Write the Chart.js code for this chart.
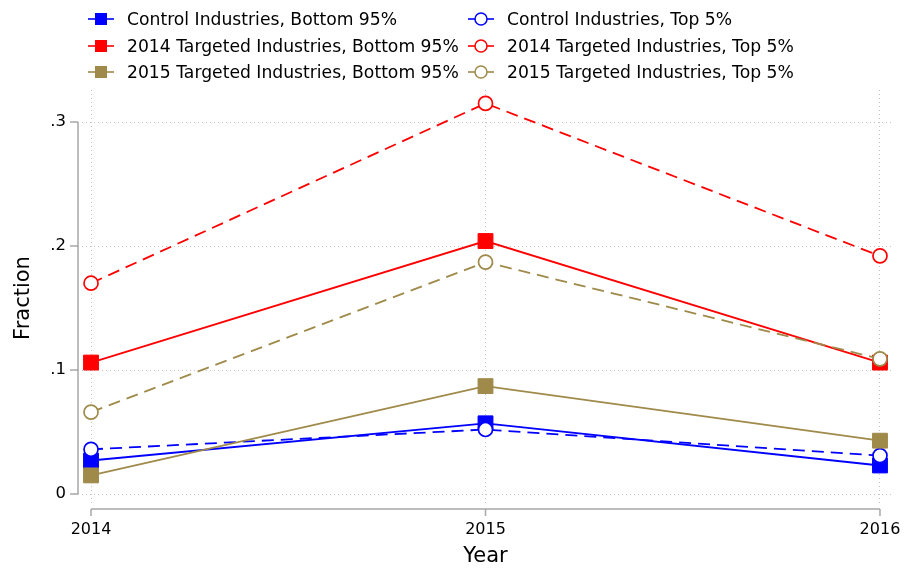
<!DOCTYPE html>
<html><head><meta charset="utf-8">
<script src="https://cdn.jsdelivr.net/npm/chart.js@4/dist/chart.umd.min.js"></script>
<style>
html,body{margin:0;padding:0;background:#fff}
#wrap{position:relative;width:905px;height:571px;overflow:hidden}
canvas{position:absolute;left:0;top:0}
.leg{position:absolute;font-family:'DejaVu Sans',sans-serif;font-size:17.2px;color:#000;display:flex;align-items:center;white-space:nowrap;height:22px}
.leg svg{margin-right:13px;flex:none}
</style></head><body>
<div id="wrap"><canvas id="c" width="905" height="571"></canvas></div>
<script>
// ---- data ----
const years = [2014, 2015, 2016];
const controlBottom = [0.027, 0.057, 0.023];
const controlTop = [0.036, 0.052, 0.031];
const targeted2014Bottom = [0.106, 0.204, 0.106];
const targeted2014Top = [0.170, 0.315, 0.192];
const targeted2015Bottom = [0.015, 0.087, 0.043];
const targeted2015Top = [0.066, 0.187, 0.109];
const seriesNames = [
  'Control Industries, Bottom 95%', 'Control Industries, Top 5%',
  '2014 Targeted Industries, Bottom 95%', '2014 Targeted Industries, Top 5%',
  '2015 Targeted Industries, Bottom 95%', '2015 Targeted Industries, Top 5%'
];
const seriesValues = [controlBottom, controlTop, targeted2014Bottom, targeted2014Top, targeted2015Bottom, targeted2015Top];
const yTickValues = [0, 0.1, 0.2, 0.3];
const yTickLabels = ['0', '.1', '.2', '.3'];
const xTickLabels = ['2014', '2015', '2016'];

// ---- styles ----
const BLUE = '#0000ff', RED = '#ff0000', TAN = '#9f8a4a';
const seriesColors = [BLUE, BLUE, RED, RED, TAN, TAN];
const isTop = [false, true, false, true, false, true];
const FONT = "'DejaVu Sans', sans-serif";

const datasets = seriesValues.map((vals, i) => ({
  label: seriesNames[i],
  data: years.map((yr, j) => ({x: yr, y: vals[j]})),
  borderColor: seriesColors[i],
  borderWidth: 1.8,
  borderDash: isTop[i] ? [12, 7] : [],
  pointStyle: isTop[i] ? 'circle' : 'rect',
  pointRadius: isTop[i] ? 7 : 10.5,
  pointHoverRadius: isTop[i] ? 7 : 10.5,
  pointBorderWidth: isTop[i] ? 1.7 : 1,
  pointBackgroundColor: isTop[i] ? '#ffffff' : seriesColors[i],
  pointBorderColor: seriesColors[i],
  tension: 0,
  fill: false,
  order: seriesValues.length - i
}));

const axisLines = {
  id: 'axisLines',
  afterDraw(chart) {
    const {ctx, chartArea, scales: {x, y}} = chart;
    ctx.save();
    ctx.strokeStyle = '#a8a8a8';
    ctx.lineWidth = 1.5;
    ctx.setLineDash([]);
    ctx.beginPath();
    const ax = chartArea.left;
    ctx.moveTo(ax, y.getPixelForValue(Math.max(...yTickValues)));
    ctx.lineTo(ax, y.getPixelForValue(Math.min(...yTickValues)));
    yTickValues.forEach(v => { const p = y.getPixelForValue(v); ctx.moveTo(ax - 8, p); ctx.lineTo(ax, p); });
    const ay = chartArea.bottom + 3;
    ctx.moveTo(x.getPixelForValue(years[0]), ay);
    ctx.lineTo(x.getPixelForValue(years[years.length - 1]), ay);
    years.forEach(v => { const p = x.getPixelForValue(v); ctx.moveTo(p, ay); ctx.lineTo(p, ay + 7); });
    ctx.stroke();
    ctx.restore();
  }
};

new Chart(document.getElementById('c'), {
  type: 'line',
  data: {datasets},
  plugins: [axisLines],
  options: {
    responsive: false,
    animation: false,
    devicePixelRatio: 1,
    layout: {padding: {top: 90, right: 12, left: 0, bottom: 0}},
    plugins: {legend: {display: false}, tooltip: {enabled: false}},
    scales: {
      x: {
        type: 'linear',
        min: 2013.967, max: 2016.033,
        afterBuildTicks: s => { s.ticks = years.map(v => ({value: v})); },
        afterFit: s => { s.height = 65; s.paddingLeft = 0; s.paddingRight = 0; },
        ticks: {callback: (v, i) => xTickLabels[i], font: {family: FONT, size: 16}, color: '#000', padding: 14, maxRotation: 0, autoSkip: false},
        grid: {color: '#c4c4c4', lineWidth: 1, drawTicks: false},
        border: {display: false, dash: [1, 3]},
        title: {display: true, text: 'Year', color: '#000', font: {family: FONT, size: 21}, padding: {top: 0, bottom: 2}}
      },
      y: {
        type: 'linear',
        min: -0.009677, max: 0.32581,
        afterBuildTicks: s => { s.ticks = yTickValues.map(v => ({value: v})); },
        afterFit: s => { s.width = 78; s.paddingTop = 0; s.paddingBottom = 0; },
        ticks: {callback: (v, i) => yTickLabels[i], font: {family: FONT, size: 16.5}, color: '#000', padding: 12, autoSkip: false},
        grid: {color: '#c4c4c4', lineWidth: 1, drawTicks: false},
        border: {display: false, dash: [1, 3]},
        title: {display: true, text: 'Fraction', color: '#000', font: {family: FONT, size: 21}, padding: {top: 11, bottom: 0}}
      }
    }
  }
});

// ---- HTML legend (two columns) ----
const wrap = document.getElementById('wrap');
const colX = [88, 468];
const rowY = [19, 46, 72];
seriesNames.forEach((name, i) => {
  const col = i % 2, row = Math.floor(i / 2);
  const d = document.createElement('div');
  d.className = 'leg';
  d.style.left = colX[col] + 'px';
  d.style.top = (rowY[row] - 11) + 'px';
  const c = seriesColors[i];
  const marker = isTop[i]
    ? `<circle cx="13" cy="8" r="6" fill="#fff" stroke="${c}" stroke-width="1.5"/>`
    : `<rect x="7" y="2" width="12" height="12" fill="${c}"/>`;
  d.innerHTML = `<svg width="26" height="16" viewBox="0 0 26 16"><line x1="0" y1="8" x2="26" y2="8" stroke="${c}" stroke-width="1.6"/>${marker}</svg><span></span>`;
  d.querySelector('span').textContent = name;
  wrap.appendChild(d);
});
</script>
</body></html>
